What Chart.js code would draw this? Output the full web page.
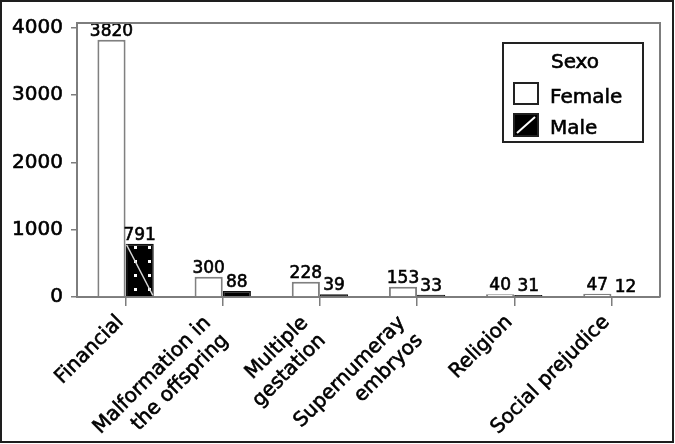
<!DOCTYPE html>
<html>
<head>
<meta charset="utf-8">
<script src="https://cdn.jsdelivr.net/npm/chart.js@4/dist/chart.umd.min.js"></script>
<style>
html,body{margin:0;padding:0;background:#fff;}
#wrap{width:675px;height:444px;}
</style>
</head>
<body>
<div id="wrap"><canvas id="c" width="675" height="444"></canvas></div>
<script>
// ---- data ----
const categories = ['Financial', ['Malformation in', 'the offspring'], ['Multiple', 'gestation'], ['Supernumeray', 'embryos'], 'Religion', 'Social prejudice'];
const femaleValues = [3820, 300, 228, 153, 40, 47];
const maleValues = [791, 88, 39, 33, 31, 12];
const seriesNames = ['Female', 'Male'];
const legendTitle = 'Sexo';
const yTickValues = [0, 1000, 2000, 3000, 4000];

const FONT = '"DejaVu Sans", Verdana, sans-serif';
const AXIS_GREY = '#7d7d7d';
const HEFT = 0.6;

function heavyText(ctx, s, x, y) {
  ctx.fillText(s, x, y);
  ctx.lineWidth = HEFT;
  ctx.strokeStyle = ctx.fillStyle;
  ctx.strokeText(s, x, y);
}

function makePattern() {
  const t = document.createElement('canvas');
  t.width = 14; t.height = 14;
  const g = t.getContext('2d');
  g.fillStyle = '#000';
  g.fillRect(0, 0, 14, 14);
  g.fillStyle = '#fff';
  g.fillRect(8, 8, 3, 3);
  return document.getElementById('c').getContext('2d').createPattern(t, 'repeat');
}

const framePlugin = {
  id: 'frame',
  beforeDraw(chart) {
    const ctx = chart.ctx;
    ctx.save();
    ctx.fillStyle = '#fff';
    ctx.fillRect(0, 0, chart.width, chart.height);
    ctx.restore();
  },
  afterDraw(chart) {
    const ctx = chart.ctx;
    const a = chart.chartArea;
    ctx.save();
    ctx.strokeStyle = AXIS_GREY;
    ctx.lineWidth = 2;
    ctx.beginPath();
    ctx.moveTo(a.left, a.top);
    ctx.lineTo(a.right, a.top);
    ctx.lineTo(a.right, a.bottom);
    ctx.stroke();
    ctx.strokeStyle = '#1e1e1e';
    ctx.lineWidth = 2;
    ctx.strokeRect(1, 1, chart.width - 3, chart.height - 3);
    ctx.restore();
  }
};

const barDecorPlugin = {
  id: 'barDecor',
  afterDatasetsDraw(chart) {
    const ctx = chart.ctx;
    ctx.save();
    const mMeta = chart.getDatasetMeta(1);
    mMeta.data.forEach(el => {
      const p = el.getProps(['x', 'y', 'base', 'width'], true);
      const h = p.base - p.y;
      if (h < 8) return;
      const l = p.x - p.width / 2 + 1, r = p.x + p.width / 2 - 1;
      ctx.strokeStyle = '#d8d8d8';
      ctx.lineWidth = 1.5;
      ctx.beginPath();
      ctx.moveTo(l, p.y + 1);
      ctx.lineTo(r, p.base - 1);
      ctx.stroke();
    });
    ctx.fillStyle = '#000';
    ctx.font = '17px ' + FONT;
    ctx.textAlign = 'center';
    ctx.textBaseline = 'alphabetic';
    chart.data.datasets.forEach((ds, di) => {
      const meta = chart.getDatasetMeta(di);
      meta.data.forEach((el, i) => {
        const p = el.getProps(['x', 'y'], true);
        heavyText(ctx, String(ds.data[i]), p.x, p.y - 4);
      });
    });
    ctx.restore();
  }
};

const catLabelPlugin = {
  id: 'catLabels',
  afterDraw(chart) {
    const ctx = chart.ctx;
    const xs = chart.scales.x;
    const base = chart.chartArea.bottom;
    ctx.save();
    ctx.fillStyle = '#000';
    ctx.font = '20px ' + FONT;
    ctx.textAlign = 'right';
    ctx.textBaseline = 'middle';
    categories.forEach((lab, i) => {
      const lines = Array.isArray(lab) ? lab : [lab];
      const px = xs.getPixelForValue(i);
      const multi = lines.length > 1;
      lines.forEach((ln, j) => {
        const ax = px + (multi ? -15 : -5) + 17.5 * j;
        const ay = base + (multi ? 23 : 22) + 17.5 * j;
        ctx.save();
        ctx.translate(ax, ay);
        ctx.rotate(-Math.PI / 4);
        heavyText(ctx, ln, 0, 0);
        ctx.restore();
      });
    });
    ctx.restore();
  }
};

const legendPlugin = {
  id: 'boxLegend',
  afterDraw(chart) {
    const ctx = chart.ctx;
    const a = chart.chartArea;
    const bx = a.right - 157, by = a.top + 20, bw = 140, bh = 99;
    ctx.save();
    ctx.strokeStyle = '#222';
    ctx.lineWidth = 2;
    ctx.strokeRect(bx, by, bw, bh);
    ctx.fillStyle = '#000';
    ctx.font = '20px ' + FONT;
    ctx.textBaseline = 'alphabetic';
    ctx.textAlign = 'center';
    heavyText(ctx, legendTitle, bx + bw / 2 + 2, by + 25);
    ctx.textAlign = 'left';
    ctx.fillStyle = '#fff';
    ctx.fillRect(bx + 11, by + 40, 24, 21);
    ctx.strokeStyle = '#222';
    ctx.lineWidth = 2;
    ctx.strokeRect(bx + 11, by + 40, 24, 21);
    ctx.fillStyle = '#000';
    heavyText(ctx, seriesNames[0], bx + 47, by + 60);
    ctx.fillStyle = '#000';
    ctx.fillRect(bx + 11, by + 71, 24, 22);
    ctx.strokeStyle = '#222';
    ctx.lineWidth = 2;
    ctx.strokeRect(bx + 11, by + 71, 24, 22);
    ctx.strokeStyle = '#fff';
    ctx.lineWidth = 2;
    ctx.beginPath();
    ctx.moveTo(bx + 14, by + 90);
    ctx.lineTo(bx + 32, by + 74);
    ctx.stroke();
    ctx.fillStyle = '#000';
    heavyText(ctx, seriesNames[1], bx + 47, by + 91);
    ctx.restore();
  }
};

const chart = new Chart(document.getElementById('c'), {
  type: 'bar',
  data: {
    labels: categories,
    datasets: [
      {
        label: seriesNames[0],
        data: femaleValues,
        backgroundColor: '#ffffff',
        borderColor: '#808080',
        borderWidth: 2,
        barPercentage: 1,
        categoryPercentage: 0.58
      },
      {
        label: seriesNames[1],
        data: maleValues,
        backgroundColor: makePattern(),
        borderColor: '#111111',
        borderWidth: 1.5,
        barPercentage: 1,
        categoryPercentage: 0.58
      }
    ]
  },
  options: {
    responsive: false,
    animation: false,
    devicePixelRatio: 1,
    layout: { padding: { top: 23, right: 15, left: 0, bottom: 0 } },
    plugins: { legend: { display: false }, tooltip: { enabled: false } },
    scales: {
      x: {
        offset: true,
        grid: { display: true, offset: false, drawOnChartArea: false, drawTicks: true, tickLength: 9, color: AXIS_GREY, lineWidth: 1.5 },
        border: { display: true, color: AXIS_GREY, width: 2 },
        ticks: { display: false },
        afterFit(s) { s.height = 147; }
      },
      y: {
        min: 0,
        max: 4070,
        grid: { display: true, drawOnChartArea: false, drawTicks: true, tickLength: 6, color: AXIS_GREY, lineWidth: 1.5 },
        border: { display: true, color: AXIS_GREY, width: 2 },
        ticks: { font: { family: FONT, size: 20 }, color: '#000', padding: 8, textStrokeColor: '#000', textStrokeWidth: HEFT, callback: v => String(v) },
        afterBuildTicks(s) { s.ticks = yTickValues.map(v => ({ value: v })); },
        afterFit(s) { s.width = 77; }
      }
    }
  },
  plugins: [framePlugin, barDecorPlugin, catLabelPlugin, legendPlugin]
});
</script>
</body>
</html>
